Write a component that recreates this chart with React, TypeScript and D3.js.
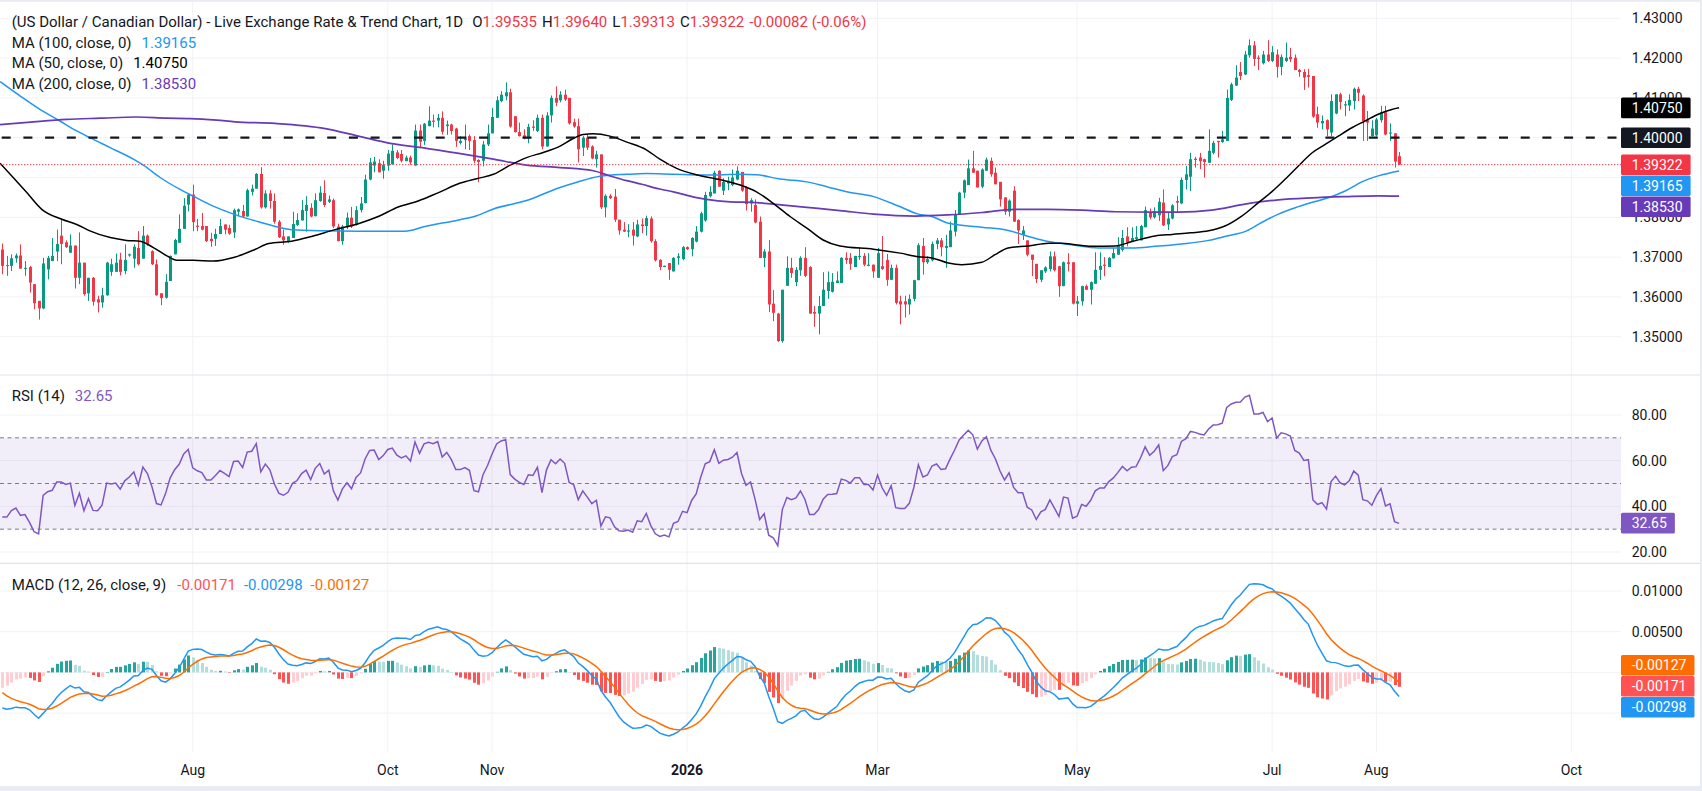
import React, { useMemo } from 'react';
import * as d3 from 'd3';

const FONT = "Roboto, 'Noto Sans', 'DejaVu Sans', sans-serif";
const TEXT = '#131722';
const UP = '#089981';
const DOWN = '#F23645';
const MA50_COLOR = '#000000';
const MA100_COLOR = '#2196F3';
const MA200_COLOR = '#673AB7';
const RSI_COLOR = '#7E57C2';
const MACD_COLOR = '#2196F3';
const SIGNAL_COLOR = '#FF6D00';

// first bar date; bars are weekdays
const START_DATE = '2025-06-04';

const OPEN = [
  1.3719,1.3680,1.3678,1.3697,1.3704,1.3671,1.3675,1.3632,1.3590,1.3571,
  1.3669,1.3690,1.3714,1.3754,1.3737,1.3711,1.3729,1.3648,1.3686,1.3609,
  1.3648,1.3594,1.3586,1.3604,1.3663,1.3663,1.3694,1.3665,1.3704,1.3696,
  1.3723,1.3696,1.3754,1.3715,1.3682,1.3609,1.3598,1.3640,1.3707,1.3736,
  1.3771,1.3832,1.3857,1.3779,1.3778,1.3778,1.3746,1.3746,1.3758,1.3782,
  1.3773,1.3762,1.3814,1.3816,1.3802,1.3864,1.3872,1.3909,1.3825,1.3860,
  1.3841,1.3789,1.3752,1.3740,1.3748,1.3781,1.3792,1.3816,1.3824,1.3803,
  1.3841,1.3861,1.3839,1.3843,1.3777,1.3740,1.3775,1.3799,1.3781,1.3818,
  1.3836,1.3895,1.3930,1.3936,1.3917,1.3930,1.3934,1.3963,1.3959,1.3941,
  1.3950,1.3930,1.4018,1.3992,1.4029,1.4043,1.4043,1.4050,1.4029,1.4033,
  1.4023,1.3987,1.3994,1.4004,1.3994,1.3944,1.3942,1.3983,1.4011,1.4050,
  1.4092,1.4104,1.4114,1.4054,1.4014,1.4006,1.3998,1.4028,1.4017,1.4050,
  1.3978,1.4056,1.4100,1.4094,1.4108,1.4100,1.4039,1.4029,1.3975,1.4000,
  1.3978,1.3946,1.3958,1.3825,1.3854,1.3852,1.3794,1.3769,1.3764,1.3769,
  1.3752,1.3782,1.3778,1.3797,1.3740,1.3693,1.3675,1.3685,1.3664,1.3698,
  1.3695,1.3725,1.3720,1.3739,1.3764,1.3792,1.3853,1.3860,1.3917,1.3867,
  1.3885,1.3881,1.3895,1.3914,1.3875,1.3835,1.3831,1.3789,1.3698,1.3714,
  1.3583,1.3558,1.3489,1.3628,1.3673,1.3637,1.3667,1.3698,1.3675,1.3562,
  1.3558,1.3577,1.3615,1.3613,1.3635,1.3635,1.3698,1.3698,1.3675,1.3702,
  1.3703,1.3678,1.3681,1.3648,1.3677,1.3693,1.3643,1.3673,1.3589,1.3589,
  1.3581,1.3595,1.3642,1.3728,1.3687,1.3692,1.3733,1.3742,1.3723,1.3725,
  1.3764,1.3808,1.3862,1.3881,1.3923,1.3917,1.3877,1.3917,1.3942,1.3912,
  1.3889,1.3850,1.3814,1.3867,1.3793,1.3756,1.3742,1.3706,1.3683,1.3643,
  1.3664,1.3670,1.3702,1.3677,1.3627,1.3687,1.3687,1.3583,1.3589,1.3627,
  1.3618,1.3633,1.3668,1.3681,1.3675,1.3697,1.3706,1.3718,1.3752,1.3739,
  1.3745,1.3742,1.3775,1.3813,1.3800,1.3805,1.3837,1.3782,1.3797,1.3841,
  1.3835,1.3894,1.3902,1.3947,1.3950,1.3946,1.3937,1.3962,1.3992,1.3989,
  1.3992,1.4095,1.4131,1.4165,1.4159,1.4207,1.4232,1.4201,1.4187,1.4209,
  1.4193,1.4209,1.4178,1.4193,1.4203,1.4201,1.4170,1.4165,1.4157,1.4155,
  1.4059,1.4036,1.4044,1.4013,1.4061,1.4109,1.4081,1.4081,1.4092,1.4123,
  1.4106,1.4044,1.4004,1.4006,1.4044,1.4064,1.4011,1.4011,1.39535,
];
const HIGH = [
  1.3734,1.3703,1.3707,1.3709,1.3732,1.3690,1.3678,1.3632,1.3590,1.3698,
  1.3703,1.3748,1.3769,1.3798,1.3742,1.3757,1.3729,1.3762,1.3686,1.3648,
  1.3650,1.3603,1.3623,1.3688,1.3696,1.3709,1.3711,1.3732,1.3709,1.3732,
  1.3765,1.3778,1.3757,1.3717,1.3694,1.3609,1.3657,1.3704,1.3746,1.3807,
  1.3848,1.3861,1.3882,1.3796,1.3811,1.3778,1.3761,1.3771,1.3796,1.3782,
  1.3781,1.3822,1.3822,1.3831,1.3872,1.3882,1.3911,1.3926,1.3868,1.3868,
  1.3860,1.3793,1.3769,1.3752,1.3814,1.3810,1.3843,1.3853,1.3835,1.3860,
  1.3878,1.3893,1.3855,1.3847,1.3784,1.3781,1.3812,1.3826,1.3828,1.3851,
  1.3907,1.3949,1.3952,1.3946,1.3942,1.3969,1.3983,1.3969,1.3969,1.3955,
  1.3955,1.4033,1.4033,1.4037,1.4079,1.4058,1.4060,1.4066,1.4043,1.4035,
  1.4025,1.4004,1.4033,1.4008,1.4004,1.3946,1.3992,1.4033,1.4075,1.4104,
  1.4117,1.4139,1.4123,1.4054,1.4038,1.4021,1.4035,1.4044,1.4058,1.4058,
  1.4064,1.4106,1.4129,1.4117,1.4121,1.4100,1.4048,1.4048,1.4004,1.4008,
  1.3981,1.3967,1.3958,1.3858,1.3858,1.3871,1.3794,1.3788,1.3783,1.3788,
  1.3794,1.3797,1.3804,1.3802,1.3745,1.3695,1.3679,1.3685,1.3700,1.3710,
  1.3728,1.3727,1.3750,1.3778,1.3814,1.3864,1.3878,1.3917,1.3918,1.3898,
  1.3902,1.3920,1.3928,1.3914,1.3878,1.3848,1.3845,1.3802,1.3720,1.3743,
  1.3617,1.3560,1.3618,1.3702,1.3698,1.3675,1.3702,1.3725,1.3677,1.3577,
  1.3602,1.3662,1.3664,1.3660,1.3664,1.3700,1.3712,1.3710,1.3703,1.3725,
  1.3710,1.3710,1.3681,1.3723,1.3753,1.3708,1.3681,1.3681,1.3603,1.3603,
  1.3606,1.3643,1.3735,1.3748,1.3702,1.3739,1.3748,1.3748,1.3756,1.3789,
  1.3818,1.3864,1.3895,1.3945,1.3967,1.3917,1.3923,1.3950,1.3950,1.3925,
  1.3889,1.3850,1.3845,1.3878,1.3795,1.3778,1.3742,1.3706,1.3683,1.3667,
  1.3677,1.3714,1.3714,1.3678,1.3689,1.3710,1.3687,1.3602,1.3628,1.3631,
  1.3639,1.3712,1.3712,1.3700,1.3700,1.3723,1.3750,1.3768,1.3775,1.3775,
  1.3778,1.3781,1.3827,1.3822,1.3825,1.3849,1.3870,1.3812,1.3833,1.3854,
  1.3900,1.3929,1.3962,1.3952,1.3962,1.3947,1.4021,1.3992,1.3992,1.4017,
  1.4121,1.4138,1.4182,1.4190,1.4218,1.4247,1.4243,1.4207,1.4218,1.4245,
  1.4230,1.4222,1.4209,1.4239,1.4226,1.4209,1.4173,1.4172,1.4173,1.4155,
  1.4078,1.4056,1.4046,1.4109,1.4109,1.4113,1.4092,1.4109,1.4126,1.4128,
  1.4109,1.4067,1.4044,1.4050,1.4080,1.4080,1.4036,1.4011,1.39640,
];
const LOW = [
  1.3657,1.3653,1.3665,1.3686,1.3671,1.3653,1.3611,1.3569,1.3543,1.3569,
  1.3644,1.3690,1.3690,1.3682,1.3723,1.3711,1.3621,1.3632,1.3603,1.3590,
  1.3578,1.3561,1.3573,1.3603,1.3653,1.3663,1.3654,1.3657,1.3701,1.3673,
  1.3679,1.3696,1.3728,1.3680,1.3603,1.3579,1.3596,1.3640,1.3707,1.3736,
  1.3771,1.3815,1.3765,1.3765,1.3767,1.3738,1.3726,1.3728,1.3758,1.3757,
  1.3756,1.3748,1.3802,1.3798,1.3802,1.3855,1.3872,1.3822,1.3822,1.3822,
  1.3784,1.3748,1.3731,1.3736,1.3748,1.3778,1.3792,1.3764,1.3800,1.3802,
  1.3839,1.3826,1.3836,1.3773,1.3740,1.3731,1.3770,1.3773,1.3779,1.3812,
  1.3835,1.3893,1.3913,1.3913,1.3897,1.3917,1.3932,1.3946,1.3938,1.3941,
  1.3932,1.3930,1.3975,1.3982,1.4029,1.4026,1.4026,1.4008,1.4007,1.4008,
  1.3977,1.3983,1.3971,1.3969,1.3936,1.3888,1.3928,1.3979,1.4011,1.4050,
  1.4089,1.4094,1.4025,1.4013,1.4003,1.3996,1.3986,1.4017,1.4014,1.3971,
  1.3978,1.4038,1.4079,1.4089,1.4092,1.4033,1.4025,1.3938,1.3954,1.3969,
  1.3946,1.3925,1.3821,1.3800,1.3846,1.3788,1.3756,1.3763,1.3750,1.3729,
  1.3750,1.3760,1.3754,1.3736,1.3689,1.3667,1.3675,1.3643,1.3664,1.3681,
  1.3692,1.3718,1.3702,1.3737,1.3762,1.3789,1.3850,1.3860,1.3877,1.3856,
  1.3868,1.3878,1.3893,1.3864,1.3817,1.3814,1.3785,1.3698,1.3675,1.3562,
  1.3539,1.3487,1.3485,1.3628,1.3648,1.3627,1.3653,1.3650,1.3558,1.3525,
  1.3506,1.3577,1.3595,1.3611,1.3635,1.3635,1.3683,1.3668,1.3675,1.3693,
  1.3677,1.3677,1.3648,1.3648,1.3668,1.3628,1.3642,1.3581,1.3531,1.3548,
  1.3556,1.3589,1.3642,1.3656,1.3683,1.3689,1.3720,1.3702,1.3673,1.3725,
  1.3752,1.3808,1.3848,1.3881,1.3912,1.3875,1.3873,1.3917,1.3902,1.3883,
  1.3827,1.3806,1.3802,1.3789,1.3733,1.3743,1.3702,1.3652,1.3635,1.3637,
  1.3660,1.3664,1.3664,1.3600,1.3627,1.3664,1.3581,1.3552,1.3578,1.3617,
  1.3581,1.3633,1.3643,1.3652,1.3675,1.3696,1.3706,1.3714,1.3727,1.3739,
  1.3743,1.3742,1.3775,1.3795,1.3797,1.3791,1.3778,1.3768,1.3795,1.3813,
  1.3833,1.3870,1.3866,1.3925,1.3921,1.3900,1.3937,1.3958,1.3950,1.3987,
  1.3992,1.4092,1.4130,1.4145,1.4157,1.4201,1.4180,1.4170,1.4184,1.4190,
  1.4190,1.4151,1.4157,1.4190,1.4190,1.4170,1.4153,1.4120,1.4126,1.4050,
  1.4025,1.4021,1.4004,1.4004,1.4059,1.4071,1.4054,1.4067,1.4071,1.4092,
  1.3992,1.3992,1.4003,1.4003,1.4038,1.4006,1.3992,1.3925,1.39313,
];
const CLOSE = [
  1.3678,1.3678,1.3697,1.3704,1.3671,1.3673,1.3636,1.3584,1.3571,1.3684,
  1.3698,1.3703,1.3733,1.3733,1.3725,1.3729,1.3648,1.3686,1.3607,1.3648,
  1.3588,1.3586,1.3604,1.3686,1.3682,1.3686,1.3663,1.3693,1.3707,1.3726,
  1.3682,1.3754,1.3732,1.3682,1.3604,1.3597,1.3638,1.3703,1.3743,1.3771,
  1.3829,1.3857,1.3788,1.3776,1.3769,1.3740,1.3740,1.3758,1.3778,1.3769,
  1.3759,1.3818,1.3820,1.3802,1.3868,1.3872,1.3909,1.3825,1.3860,1.3841,
  1.3789,1.3750,1.3742,1.3752,1.3783,1.3793,1.3818,1.3831,1.3802,1.3843,
  1.3862,1.3831,1.3845,1.3777,1.3740,1.3777,1.3799,1.3777,1.3818,1.3835,
  1.3895,1.3938,1.3940,1.3913,1.3931,1.3960,1.3967,1.3949,1.3942,1.3950,
  1.3938,1.4018,1.3990,1.4035,1.4043,1.4040,1.4050,1.4015,1.4033,1.4017,
  1.3992,1.3992,1.3998,1.3992,1.3942,1.3939,1.3983,1.4011,1.4052,1.4094,
  1.4108,1.4114,1.4028,1.4014,1.4004,1.3998,1.4027,1.4025,1.4050,1.3978,
  1.4056,1.4100,1.4088,1.4108,1.4096,1.4036,1.4028,1.3971,1.4000,1.3975,
  1.3948,1.3958,1.3825,1.3854,1.3848,1.3794,1.3767,1.3764,1.3767,1.3754,
  1.3782,1.3778,1.3798,1.3740,1.3692,1.3675,1.3678,1.3668,1.3698,1.3702,
  1.3725,1.3720,1.3748,1.3764,1.3810,1.3856,1.3864,1.3912,1.3877,1.3889,
  1.3892,1.3900,1.3917,1.3867,1.3833,1.3843,1.3787,1.3698,1.3714,1.3581,
  1.3560,1.3489,1.3618,1.3673,1.3660,1.3668,1.3698,1.3653,1.3558,1.3558,
  1.3577,1.3618,1.3637,1.3638,1.3641,1.3698,1.3693,1.3683,1.3703,1.3703,
  1.3681,1.3681,1.3664,1.3710,1.3670,1.3643,1.3673,1.3585,1.3581,1.3581,
  1.3595,1.3642,1.3730,1.3687,1.3695,1.3733,1.3742,1.3725,1.3728,1.3767,
  1.3808,1.3862,1.3893,1.3923,1.3912,1.3875,1.3920,1.3945,1.3908,1.3883,
  1.3845,1.3814,1.3842,1.3789,1.3767,1.3767,1.3706,1.3693,1.3645,1.3667,
  1.3674,1.3702,1.3667,1.3627,1.3687,1.3683,1.3583,1.3589,1.3627,1.3618,
  1.3637,1.3668,1.3678,1.3678,1.3698,1.3710,1.3728,1.3748,1.3737,1.3748,
  1.3750,1.3778,1.3818,1.3800,1.3815,1.3839,1.3780,1.3797,1.3830,1.3837,
  1.3894,1.3908,1.3946,1.3944,1.3941,1.3939,1.3967,1.3987,1.3989,1.3996,
  1.4100,1.4134,1.4151,1.4155,1.4209,1.4232,1.4198,1.4198,1.4209,1.4193,
  1.4215,1.4178,1.4203,1.4201,1.4197,1.4170,1.4165,1.4151,1.4153,1.4053,
  1.4038,1.4042,1.4021,1.4092,1.4109,1.4090,1.4084,1.4095,1.4123,1.4113,
  1.4042,1.4038,1.4023,1.4046,1.4064,1.4008,1.4013,1.3940,1.39322,
];

// moving averages: [bar index, value]
const MA50_PTS = [
  [-0.5,1.3936],[2.4,1.3900],[5.4,1.3862],[8.7,1.3820],[13.1,1.3795],[16.4,1.3782],[19.3,1.3766],[23.8,1.3749],
  [27.4,1.3742],[30.4,1.3740],[33.3,1.3724],[36.3,1.3703],[38.5,1.3692],[42.1,1.3692],[46.5,1.3690],[51,1.3699],
  [55.7,1.3719],[58.7,1.3734],[63.8,1.3740],[68.2,1.3752],[73.4,1.3769],[78.5,1.3784],[82.9,1.3802],[87.3,1.3826],
  [91.7,1.3841],[96.2,1.3862],[101,1.3886],[104.6,1.3897],[108.3,1.3908],[112,1.3931],[115.6,1.3950],[119.3,1.3963],
  [123,1.3979],[125.9,1.3998],[128.1,1.4008],[130.3,1.4010],[134,1.4004],[137.7,1.3989],[142.1,1.3969],[145,1.3946],
  [148.7,1.3923],[153,1.3907],[158.2,1.3895],[162.7,1.3881],[166.3,1.3864],[170,1.3835],[173.7,1.3802],[177.4,1.3773],
  [181,1.3743],[184.7,1.3728],[192.1,1.3720],[198,1.3710],[202,1.3701],[205,1.3698],[208.6,1.3685],[211.6,1.3681],
  [216,1.3687],[218.9,1.3706],[221.8,1.3723],[226.3,1.3728],[230.7,1.3735],[233.6,1.3735],[236.6,1.3731],[240.2,1.3727],
  [245.4,1.3728],[249.1,1.3739],[254.2,1.3753],[258,1.3757],[262,1.3761],[266,1.3766],[269.6,1.3778],[273.3,1.3803],
  [277,1.3837],[279.9,1.3864],[282.8,1.3895],[285.8,1.3929],[288.7,1.3961],[291.7,1.3983],[294.6,1.4004],[297.6,1.4025],
  [300.5,1.4042],[303.4,1.4059],[306.4,1.4071],[308,1.4075],
];
const MA100_PTS = [
  [-0.5,1.4141],[3.9,1.4105],[8.3,1.4071],[12.7,1.4042],[16.4,1.4017],[19.3,1.4000],[23.8,1.3975],[28.9,1.3946],
  [31.1,1.3931],[34.8,1.3900],[39.2,1.3870],[42.1,1.3853],[46.5,1.3828],[51,1.3808],[56.5,1.3789],[63.8,1.3769],
  [71.2,1.3766],[78.5,1.3765],[88.8,1.3765],[93.2,1.3777],[100.9,1.3794],[104.6,1.3804],[108.3,1.3821],[115.6,1.3842],
  [123,1.3875],[126.7,1.3888],[131.8,1.3903],[137.7,1.3908],[142,1.3910],[148,1.3908],[155.3,1.3906],[162.7,1.3908],
  [166.3,1.3907],[171.5,1.3896],[177.4,1.3889],[181.8,1.3877],[186.2,1.3864],[192.1,1.3852],[197.9,1.3827],[202,1.3808],
  [205,1.3802],[208.6,1.3785],[216,1.3775],[221.8,1.3767],[226.3,1.3752],[230.7,1.3739],[235.8,1.3731],[241.7,1.3723],
  [249.1,1.3723],[254.2,1.3727],[260,1.3733],[266,1.3742],[270,1.3753],[274.4,1.3766],[277.7,1.3787],[281.4,1.3808],
  [285.1,1.3824],[288.7,1.3837],[292.4,1.3849],[296.1,1.3866],[299.8,1.3889],[303.4,1.3904],[308,1.39165],
];
const MA200_PTS = [
  [-0.5,1.4033],[6.9,1.4040],[14.2,1.4046],[21.6,1.4049],[29.6,1.4052],[36.3,1.4049],[41.4,1.4048],[47.3,1.4044],
  [51.3,1.4040],[60.1,1.4036],[71.2,1.4023],[78.5,1.4004],[85.9,1.3985],[93.2,1.3974],[101,1.3960],[108.3,1.3946],
  [115.6,1.3931],[123,1.3925],[130.3,1.3917],[134,1.3904],[137.7,1.3892],[141,1.3883],[145,1.3871],[148,1.3864],
  [152.8,1.3850],[155.3,1.3845],[160.5,1.3839],[166.3,1.3837],[170,1.3833],[177.4,1.3825],[184.7,1.3817],[192.1,1.3808],
  [201.3,1.3803],[208.6,1.3806],[216,1.3812],[223.3,1.3820],[230.7,1.3820],[238,1.3818],[245.4,1.3814],[254,1.3813],
  [259.3,1.3813],[266.7,1.3818],[274,1.3833],[281.4,1.3844],[288.7,1.3849],[296.1,1.3852],[303.4,1.3854],[308,1.3853],
];

// indicator state at the left edge
const RSI_SEED_GAIN = 0.0012;
const RSI_SEED_LOSS = 0.0022;
const EMA12_SEED = 1.3749;
const EMA26_SEED = 1.3790;
const SIGNAL_SEED = -0.0020;

const TICK_DATES = ['2025-08-01','2025-10-01','2025-11-03','2026-01-01','2026-03-02','2026-05-01','2026-07-01','2026-08-03','2026-10-01'];
const TICK_LABELS = ['Aug','Oct','Nov','2026','Mar','May','Jul','Aug','Oct'];
const TICK_BOLD = [false,false,false,true,false,false,false,false,false];

const PRICE_TICKS = [1.35,1.36,1.37,1.38,1.39,1.40,1.41,1.42,1.43];
const RSI_TICKS = [20,40,60,80];
const RSI_LEVELS = [70,50,30];
const MACD_TICKS = [-0.005,0,0.005,0.01];
const KEY_LEVEL = 1.40;

const TITLE = '(US Dollar / Canadian Dollar) - Live Exchange Rate & Trend Chart, 1D';
const OHLC_KEYS = ['O','H','L','C'];
const OHLC_VALUES = ['1.39535','1.39640','1.39313','1.39322'];
const CHANGE_TEXT = '-0.00082 (-0.06%)';
const LAST_PRICE = 1.39322;
const MA_LEGEND = [
  { label: 'MA (100, close, 0)', value: 1.39165, color: MA100_COLOR },
  { label: 'MA (50, close, 0)', value: 1.40750, color: MA50_COLOR },
  { label: 'MA (200, close, 0)', value: 1.38530, color: MA200_COLOR },
];
const RSI_LAST = 32.65;
const MACD_HIST_LAST = -0.00171;
const MACD_LAST = -0.00298;
const SIGNAL_LAST = -0.00127;

let _ctx: CanvasRenderingContext2D | null = null;
function textWidth(t: string, size: number) {
  if (!_ctx) _ctx = document.createElement('canvas').getContext('2d');
  if (!_ctx) return t.length * size * 0.56;
  _ctx.font = `${size}px Roboto`;
  return _ctx.measureText(t).width;
}

function weekdayIndex(s: string) {
  const a = new Date(START_DATE + 'T00:00:00Z');
  const b = new Date(s + 'T00:00:00Z');
  return d3.utcDay.range(a, b).filter((d) => d.getUTCDay() !== 0 && d.getUTCDay() !== 6).length;
}

type Lbl = { y: number; text: string; color: string; cy?: number };
function resolveLabels(list: Lbl[], anchor: number, step = 21) {
  const res = list.map((l) => ({ ...l, cy: l.y }));
  const a = res[anchor];
  const below = res.filter((l, i) => i !== anchor && l.y >= a.y).sort((p, q) => p.y - q.y);
  let last = a.cy as number;
  for (const l of below) { l.cy = Math.max(l.y, last + step); last = l.cy; }
  const above = res.filter((l, i) => i !== anchor && l.y < a.y).sort((p, q) => q.y - p.y);
  last = a.cy as number;
  for (const l of above) { l.cy = Math.min(l.y, last - step); last = l.cy; }
  return res;
}

const BOX_HALF = 10.3;
// share of a tick label's height hidden behind the value boxes
function coveredShare(ty: number, boxes: { cy: number }[]) {
  let c = 0;
  for (let k = 0; k <= 10; k++) {
    const yy = ty - 5 + k;
    if (boxes.some((b) => yy >= b.cy - BOX_HALF && yy <= b.cy + BOX_HALF)) c++;
  }
  return c / 11;
}

export default function App() {
  const W = 1702, H = 791;
  const PLOT_R = 1621;
  const MAIN_T = 2, MAIN_B = 375, RSI_B = 563.3, MACD_B = 752;
  const LABEL_X = 1631.7;

  const x = d3.scaleLinear().domain([0, 346]).range([2.3, 2.3 + 346 * 4.535]);
  const yP = d3.scaleLinear().domain([1.35, 1.43]).range([336.7, 18.3]);
  const yR = d3.scaleLinear().domain([20, 80]).range([552, 415]);
  const yM = d3.scaleLinear().domain([-0.005, 0.01]).range([713.1, 591]);

  const ind = useMemo(() => {
    const rsi: number[] = [];
    let ag = RSI_SEED_GAIN, al = RSI_SEED_LOSS;
    for (let i = 0; i < CLOSE.length; i++) {
      if (i > 0) {
        const ch = CLOSE[i] - CLOSE[i - 1];
        ag = (ag * 13 + Math.max(ch, 0)) / 14;
        al = (al * 13 + Math.max(-ch, 0)) / 14;
      }
      rsi.push(al === 0 ? 100 : 100 - 100 / (1 + ag / al));
    }
    const macd: number[] = [], sig: number[] = [], hist: number[] = [];
    let e12 = EMA12_SEED, e26 = EMA26_SEED, s = SIGNAL_SEED;
    for (let i = 0; i < CLOSE.length; i++) {
      e12 += (CLOSE[i] - e12) * (2 / 13);
      e26 += (CLOSE[i] - e26) * (2 / 27);
      const m = e12 - e26;
      s += (m - s) * 0.2;
      macd.push(m); sig.push(s); hist.push(m - s);
    }
    return { rsi, macd, sig, hist };
  }, []);

  const ticks = TICK_DATES.map((d, i) => ({ x: x(weekdayIndex(d)), label: TICK_LABELS[i], bold: TICK_BOLD[i] }));

  const maLine = d3.line<number[]>().x((d) => x(d[0])).y((d) => yP(d[1])).curve(d3.curveMonotoneX);
  const rsiLine = d3.line<number>().x((_, i) => x(i)).y((d) => yR(d));
  const macdLine = d3.line<number>().x((_, i) => x(i)).y((d) => yM(d));

  const fmt5 = d3.format('.5f');
  const fmt2 = d3.format('.2f');
  const fmtM = (v: number) => (Math.abs(v) < 1e-12 ? '0.00000' : fmt5(v)).replace('−', '-');

  const mainLabels = resolveLabels([
    { y: yP(LAST_PRICE), text: fmt5(LAST_PRICE), color: DOWN },
    { y: yP(MA_LEGEND[1].value), text: fmt5(MA_LEGEND[1].value), color: '#000000' },
    { y: yP(KEY_LEVEL), text: fmt5(KEY_LEVEL), color: TEXT },
    { y: yP(MA_LEGEND[0].value), text: fmt5(MA_LEGEND[0].value), color: MA100_COLOR },
    { y: yP(MA_LEGEND[2].value), text: fmt5(MA_LEGEND[2].value), color: MA200_COLOR },
  ], 0);
  const macdLabels = resolveLabels([
    { y: yM(MACD_HIST_LAST), text: fmtM(MACD_HIST_LAST), color: '#FF5252' },
    { y: yM(SIGNAL_LAST), text: fmtM(SIGNAL_LAST), color: SIGNAL_COLOR },
    { y: yM(MACD_LAST), text: fmtM(MACD_LAST), color: MACD_COLOR },
  ], 0);
  const rsiLabels = [{ y: yR(RSI_LAST), cy: yR(RSI_LAST), text: fmt2(RSI_LAST), color: RSI_COLOR }];

  // tick labels fully hidden behind value boxes are not drawn
  const priceTicks = PRICE_TICKS.filter((p) => coveredShare(yP(p), mainLabels as any) < 0.75);
  const rsiTicks = RSI_TICKS.filter((p) => coveredShare(yR(p), rsiLabels) < 0.75);
  const macdTicks = MACD_TICKS.filter((p) => coveredShare(yM(p), macdLabels as any) < 0.75);

  const box = (l: any, k: string) => {
    const tw = textWidth(l.text, 14);
    return (
      <g key={k}>
        <rect x={PLOT_R} y={l.cy - BOX_HALF} width={LABEL_X - PLOT_R + tw + 8} height={BOX_HALF * 2} fill={l.color} rx={1.5} />
        <text x={LABEL_X} y={l.cy + 5} fill="#ffffff" fontSize={14}>{l.text}</text>
      </g>
    );
  };

  const histColor = (i: number) => {
    const h = ind.hist[i];
    const p = i > 0 ? ind.hist[i - 1] : h;
    if (h >= 0) return h >= p ? '#26A69A' : '#B2DFDB';
    return h < p ? '#FF5252' : '#FFCDD2';
  };

  const GRID = '#F0F2F5';
  const SEP = '#E0E3EB';

  return (
    <svg width={W} height={H} viewBox={`0 0 ${W} ${H}`} style={{ position: 'absolute', left: 0, top: 0, background: '#fff' }} fontFamily={FONT}>
      <defs>
        <clipPath id="cMain"><rect x={0} y={MAIN_T} width={PLOT_R} height={MAIN_B - MAIN_T} /></clipPath>
        <clipPath id="cRsi"><rect x={0} y={MAIN_B} width={PLOT_R} height={RSI_B - MAIN_B} /></clipPath>
        <clipPath id="cMacd"><rect x={0} y={RSI_B} width={PLOT_R} height={MACD_B - RSI_B} /></clipPath>
      </defs>
      <rect x={0} y={0} width={W} height={H} fill="#ffffff" />

      {/* grids */}
      <g stroke={GRID} strokeWidth={1}>
        {ticks.map((t, i) => <line key={'vg' + i} x1={t.x} x2={t.x} y1={MAIN_T} y2={MACD_B} />)}
        {PRICE_TICKS.map((p, i) => <line key={'pg' + i} x1={0} x2={PLOT_R} y1={yP(p)} y2={yP(p)} />)}
        {RSI_TICKS.map((p, i) => <line key={'rg' + i} x1={0} x2={PLOT_R} y1={yR(p)} y2={yR(p)} />)}
        {MACD_TICKS.map((p, i) => <line key={'mg' + i} x1={0} x2={PLOT_R} y1={yM(p)} y2={yM(p)} />)}
      </g>

      {/* main pane */}
      <g clipPath="url(#cMain)">
        {CLOSE.map((c, i) => {
          const o = OPEN[i];
          const col = c >= o ? UP : DOWN;
          const cx = Math.round(x(i)) + 0.5;
          const top = yP(Math.max(o, c));
          const h = Math.max(1, Math.abs(yP(o) - yP(c)));
          return (
            <g key={'c' + i}>
              <line x1={cx} x2={cx} y1={yP(HIGH[i])} y2={yP(LOW[i])} stroke={col} strokeWidth={1} />
              <rect x={cx - 1.5} y={top} width={3} height={h} fill={col} />
            </g>
          );
        })}
        <path d={maLine(MA100_PTS) || ''} fill="none" stroke={MA100_COLOR} strokeWidth={1.5} />
        <path d={maLine(MA200_PTS) || ''} fill="none" stroke={MA200_COLOR} strokeWidth={1.7} />
        <path d={maLine(MA50_PTS) || ''} fill="none" stroke={MA50_COLOR} strokeWidth={1.5} />
        <line x1={0} x2={PLOT_R} y1={yP(LAST_PRICE)} y2={yP(LAST_PRICE)} stroke={DOWN} strokeWidth={1} strokeDasharray="1.3,1.7" />
        <line x1={1.7} x2={PLOT_R} y1={yP(KEY_LEVEL)} y2={yP(KEY_LEVEL)} stroke={TEXT} strokeWidth={2.2} strokeDasharray="9,12.7" />
      </g>

      {/* RSI pane */}
      <g clipPath="url(#cRsi)">
        <rect x={0} y={yR(70)} width={PLOT_R} height={yR(30) - yR(70)} fill="rgba(126,87,194,0.1)" />
        {RSI_LEVELS.map((v, i) => (
          <line key={'rl' + i} x1={0} x2={PLOT_R} y1={yR(v)} y2={yR(v)} stroke="#787B86" strokeWidth={1} strokeDasharray="4,3.5" />
        ))}
        <path d={rsiLine(ind.rsi) || ''} fill="none" stroke={RSI_COLOR} strokeWidth={1.5} />
      </g>

      {/* MACD pane */}
      <g clipPath="url(#cMacd)">
        {ind.hist.map((h, i) => {
          const y0 = yM(0), y1 = yM(h);
          return <rect key={'h' + i} x={Math.round(x(i)) - 1} y={Math.min(y0, y1)} width={3} height={Math.max(0.5, Math.abs(y1 - y0))} fill={histColor(i)} />;
        })}
        <path d={macdLine(ind.macd) || ''} fill="none" stroke={MACD_COLOR} strokeWidth={1.5} />
        <path d={macdLine(ind.sig) || ''} fill="none" stroke={SIGNAL_COLOR} strokeWidth={1.5} />
      </g>

      {/* separators and frame */}
      <line x1={0} x2={W} y1={MAIN_B} y2={MAIN_B} stroke={SEP} strokeWidth={1.2} />
      <line x1={0} x2={W} y1={RSI_B} y2={RSI_B} stroke={SEP} strokeWidth={1.2} />
      <rect x={0} y={0} width={W} height={1.8} fill="#E9ECF2" />
      <rect x={0} y={786} width={W} height={5} fill="#E9ECF2" />
      <rect x={1700} y={0} width={2} height={H} fill="#E9ECF2" />

      {/* axis tick labels */}
      <g fontSize={14} fill={TEXT}>
        {priceTicks.map((p, i) => <text key={'pt' + i} x={LABEL_X} y={yP(p) + 5}>{fmt5(p)}</text>)}
        {rsiTicks.map((p, i) => <text key={'rt' + i} x={LABEL_X} y={yR(p) + 5}>{fmt2(p)}</text>)}
        {macdTicks.map((p, i) => <text key={'mt' + i} x={LABEL_X} y={yM(p) + 5}>{fmtM(p)}</text>)}
        {ticks.map((t, i) => (
          <text key={'xt' + i} x={t.x} y={775} textAnchor="middle" fontWeight={t.bold ? 700 : 400}>{t.label}</text>
        ))}
      </g>

      {/* price labels */}
      {mainLabels.map((l, i) => box(l, 'ml' + i))}
      {rsiLabels.map((l, i) => box(l, 'rl' + i))}
      {macdLabels.map((l, i) => box(l, 'mcl' + i))}

      {/* legends */}
      <g fontSize={15} style={{ whiteSpace: 'pre' }}>
        <text x={11.7} y={27}>
          <tspan fill={TEXT}>{TITLE}</tspan>
          {OHLC_KEYS.map((k, i) => (
            <React.Fragment key={'o' + i}>
              <tspan dx={i === 0 ? 9 : 5} fill={TEXT}>{k}</tspan>
              <tspan fill={DOWN}>{OHLC_VALUES[i]}</tspan>
            </React.Fragment>
          ))}
          <tspan dx={5} fill={DOWN}>{CHANGE_TEXT}</tspan>
        </text>
        {MA_LEGEND.map((m, i) => (
          <text key={'ma' + i} x={11.7} y={47.6 + i * 20.5}>
            <tspan fill={TEXT}>{m.label}</tspan>
            <tspan dx={10} fill={m.color}>{fmt5(m.value)}</tspan>
          </text>
        ))}
        <text x={11.7} y={401}>
          <tspan fill={TEXT}>RSI (14)</tspan>
          <tspan dx={10} fill={RSI_COLOR}>{fmt2(RSI_LAST)}</tspan>
        </text>
        <text x={11.7} y={589.6}>
          <tspan fill={TEXT}>MACD (12, 26, close, 9)</tspan>
          <tspan dx={11} fill="#FF5252">{fmtM(MACD_HIST_LAST)}</tspan>
          <tspan dx={8} fill={MACD_COLOR}>{fmtM(MACD_LAST)}</tspan>
          <tspan dx={8} fill={SIGNAL_COLOR}>{fmtM(SIGNAL_LAST)}</tspan>
        </text>
      </g>
    </svg>
  );
}
